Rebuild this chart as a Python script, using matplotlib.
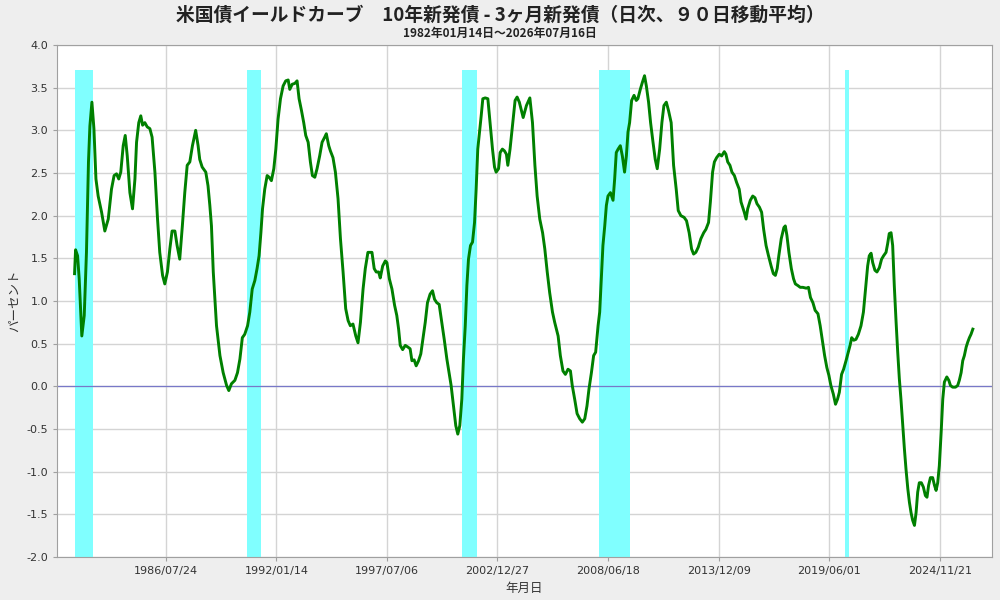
import matplotlib
matplotlib.use("Agg")
import matplotlib.pyplot as plt
import matplotlib.dates as mdates
import pandas as pd

plt.rcParams['font.family'] = ['Noto Sans CJK JP', 'DejaVu Sans']

# 10年新発債 - 3ヶ月新発債 (90日移動平均), 年は小数で読み取り
years = [
    1982.04, 1982.09, 1982.19, 1982.27, 1982.40, 1982.52, 1982.63, 1982.73, 1982.80, 1982.90,
    1983.00, 1983.10, 1983.21, 1983.38, 1983.54, 1983.71, 1983.87, 1984.00, 1984.12, 1984.23,
    1984.33, 1984.45, 1984.55, 1984.65, 1984.78, 1984.91, 1985.03, 1985.11, 1985.22, 1985.32,
    1985.41, 1985.52, 1985.64, 1985.77, 1985.88, 1986.02, 1986.15, 1986.26, 1986.40, 1986.51,
    1986.64, 1986.76, 1986.87, 1987.01, 1987.12, 1987.25, 1987.38, 1987.50, 1987.62, 1987.75,
    1987.88, 1988.04, 1988.16, 1988.24, 1988.36, 1988.54, 1988.65, 1988.74, 1988.82, 1988.91,
    1989.07, 1989.24, 1989.40, 1989.57, 1989.68, 1989.81, 1989.98, 1990.11, 1990.23, 1990.35,
    1990.47, 1990.61, 1990.72, 1990.84, 1990.97, 1991.08, 1991.18, 1991.27, 1991.35, 1991.46,
    1991.58, 1991.68, 1991.79, 1991.91, 1992.01, 1992.12, 1992.24, 1992.37, 1992.50, 1992.62,
    1992.70, 1992.82, 1992.95, 1993.06, 1993.16, 1993.28, 1993.39, 1993.49, 1993.61, 1993.72,
    1993.82, 1993.94, 1994.05, 1994.18, 1994.30, 1994.43, 1994.51, 1994.63, 1994.71, 1994.84,
    1994.96, 1995.09, 1995.21, 1995.34, 1995.47, 1995.59, 1995.70, 1995.83, 1995.97, 1996.08,
    1996.20, 1996.33, 1996.44, 1996.57, 1996.77, 1996.88, 1996.98, 1997.10, 1997.18, 1997.30,
    1997.43, 1997.51, 1997.63, 1997.76, 1997.89, 1998.00, 1998.09, 1998.17, 1998.29, 1998.42,
    1998.55, 1998.66, 1998.75, 1998.86, 1998.96, 1999.08, 1999.19, 1999.29, 1999.41, 1999.52,
    1999.65, 1999.77, 1999.87, 1999.98, 2000.10, 2000.23, 2000.35, 2000.48, 2000.59, 2000.69,
    2000.81, 2000.92, 2001.02, 2001.12, 2001.22, 2001.30, 2001.39, 2001.47, 2001.55, 2001.65,
    2001.75, 2001.85, 2001.93, 2002.01, 2002.10, 2002.18, 2002.26, 2002.38, 2002.51, 2002.62,
    2002.74, 2002.84, 2002.92, 2003.04, 2003.12, 2003.23, 2003.33, 2003.43, 2003.50, 2003.61,
    2003.73, 2003.86, 2003.96, 2004.07, 2004.26, 2004.42, 2004.59, 2004.72, 2004.84, 2004.95,
    2005.08, 2005.22, 2005.33, 2005.45, 2005.57, 2005.71, 2005.82, 2005.99, 2006.10, 2006.23,
    2006.35, 2006.48, 2006.60, 2006.69, 2006.81, 2006.93, 2007.06, 2007.19, 2007.31, 2007.42,
    2007.52, 2007.64, 2007.75, 2007.85, 2007.97, 2008.05, 2008.13, 2008.21, 2008.30, 2008.38,
    2008.46, 2008.58, 2008.71, 2008.79, 2008.87, 2008.96, 2009.07, 2009.17, 2009.28, 2009.37,
    2009.45, 2009.53, 2009.63, 2009.75, 2009.86, 2009.94, 2010.06, 2010.16, 2010.27, 2010.36,
    2010.47, 2010.57, 2010.69, 2010.80, 2010.90, 2011.02, 2011.13, 2011.23, 2011.35, 2011.46,
    2011.59, 2011.71, 2011.84, 2011.94, 2012.07, 2012.23, 2012.35, 2012.48, 2012.60, 2012.70,
    2012.81, 2012.93, 2013.06, 2013.20, 2013.31, 2013.44, 2013.53, 2013.64, 2013.73, 2013.84,
    2013.97, 2014.09, 2014.22, 2014.30, 2014.39, 2014.50, 2014.60, 2014.72, 2014.83, 2014.96,
    2015.05, 2015.13, 2015.21, 2015.30, 2015.38, 2015.51, 2015.63, 2015.74, 2015.84, 2015.96,
    2016.07, 2016.17, 2016.29, 2016.41, 2016.54, 2016.65, 2016.75, 2016.84, 2016.92, 2017.04,
    2017.17, 2017.24, 2017.32, 2017.42, 2017.54, 2017.65, 2017.74, 2017.87, 2017.98, 2018.11,
    2018.28, 2018.39, 2018.49, 2018.61, 2018.72, 2018.86, 2018.97, 2019.07, 2019.19, 2019.30,
    2019.40, 2019.50, 2019.62, 2019.73, 2019.83, 2019.92, 2020.03, 2020.13, 2020.25, 2020.36,
    2020.45, 2020.53, 2020.63, 2020.74, 2020.86, 2020.99, 2021.11, 2021.20, 2021.32, 2021.40,
    2021.49, 2021.57, 2021.68, 2021.78, 2021.90, 2022.01, 2022.11, 2022.23, 2022.31, 2022.39,
    2022.48, 2022.56, 2022.64, 2022.73, 2022.81, 2022.89, 2022.97, 2023.06, 2023.14, 2023.22,
    2023.31, 2023.39, 2023.47, 2023.55, 2023.64, 2023.72, 2023.80, 2023.88, 2023.98, 2024.08,
    2024.18, 2024.26, 2024.34, 2024.43, 2024.54, 2024.63, 2024.71, 2024.79, 2024.87, 2024.96,
    2025.04, 2025.12, 2025.24, 2025.34, 2025.42, 2025.53, 2025.67, 2025.78, 2025.86, 2025.95,
    2026.03, 2026.11, 2026.20, 2026.28, 2026.36, 2026.44, 2026.53,
]
spread = [
    1.32, 1.60, 1.53, 1.26, 0.59, 0.83, 1.57, 2.63, 3.05, 3.33,
    3.02, 2.43, 2.23, 2.04, 1.82, 1.96, 2.31, 2.47, 2.49, 2.43,
    2.51, 2.82, 2.94, 2.70, 2.27, 2.08, 2.43, 2.86, 3.09, 3.17,
    3.06, 3.09, 3.04, 3.02, 2.92, 2.51, 1.96, 1.57, 1.30, 1.20,
    1.34, 1.61, 1.82, 1.82, 1.65, 1.49, 1.88, 2.27, 2.59, 2.63,
    2.82, 3.00, 2.82, 2.66, 2.57, 2.51, 2.35, 2.12, 1.88, 1.34,
    0.71, 0.36, 0.16, 0.01, -0.05, 0.03, 0.07, 0.16, 0.32, 0.57,
    0.61, 0.71, 0.87, 1.14, 1.24, 1.38, 1.53, 1.80, 2.08, 2.31,
    2.47, 2.45, 2.41, 2.55, 2.78, 3.13, 3.37, 3.52, 3.58, 3.59,
    3.48, 3.54, 3.55, 3.58, 3.37, 3.23, 3.09, 2.94, 2.86, 2.63,
    2.47, 2.45, 2.55, 2.70, 2.86, 2.92, 2.96, 2.82, 2.76, 2.68,
    2.51, 2.20, 1.73, 1.34, 0.91, 0.77, 0.71, 0.73, 0.59, 0.51,
    0.75, 1.14, 1.38, 1.57, 1.57, 1.38, 1.34, 1.34, 1.27, 1.41,
    1.47, 1.45, 1.26, 1.14, 0.95, 0.83, 0.67, 0.48, 0.43, 0.48,
    0.46, 0.44, 0.30, 0.31, 0.24, 0.30, 0.38, 0.55, 0.75, 0.98,
    1.08, 1.12, 1.02, 0.98, 0.96, 0.75, 0.55, 0.32, 0.16, 0.01,
    -0.23, -0.46, -0.56, -0.46, -0.15, 0.32, 0.71, 1.18, 1.49, 1.65,
    1.69, 1.92, 2.31, 2.78, 2.98, 3.17, 3.37, 3.38, 3.37, 3.09,
    2.78, 2.57, 2.51, 2.55, 2.74, 2.78, 2.76, 2.72, 2.59, 2.78,
    3.05, 3.35, 3.39, 3.33, 3.15, 3.29, 3.38, 3.09, 2.59, 2.23,
    1.96, 1.80, 1.61, 1.34, 1.10, 0.87, 0.75, 0.59, 0.36, 0.18,
    0.14, 0.20, 0.18, 0.01, -0.15, -0.32, -0.38, -0.42, -0.38, -0.23,
    -0.03, 0.16, 0.36, 0.40, 0.71, 0.87, 1.26, 1.65, 1.88, 2.12,
    2.23, 2.27, 2.18, 2.43, 2.74, 2.78, 2.82, 2.70, 2.51, 2.70,
    2.98, 3.09, 3.35, 3.41, 3.35, 3.37, 3.48, 3.56, 3.64, 3.52,
    3.33, 3.09, 2.86, 2.66, 2.55, 2.78, 3.09, 3.29, 3.33, 3.23,
    3.09, 2.59, 2.31, 2.06, 2.00, 1.98, 1.94, 1.80, 1.61, 1.55,
    1.57, 1.63, 1.73, 1.80, 1.84, 1.92, 2.16, 2.51, 2.63, 2.68,
    2.72, 2.70, 2.75, 2.72, 2.63, 2.59, 2.51, 2.47, 2.39, 2.31,
    2.16, 2.10, 2.04, 1.96, 2.08, 2.18, 2.23, 2.21, 2.14, 2.10,
    2.04, 1.84, 1.65, 1.53, 1.41, 1.32, 1.30, 1.38, 1.53, 1.73,
    1.86, 1.88, 1.77, 1.57, 1.38, 1.26, 1.20, 1.18, 1.16, 1.16,
    1.15, 1.16, 1.04, 0.98, 0.89, 0.85, 0.71, 0.55, 0.36, 0.22,
    0.13, 0.01, -0.09, -0.21, -0.15, -0.07, 0.14, 0.20, 0.30, 0.40,
    0.48, 0.57, 0.54, 0.55, 0.61, 0.71, 0.87, 1.10, 1.41, 1.53,
    1.56, 1.45, 1.36, 1.34, 1.39, 1.49, 1.53, 1.57, 1.67, 1.79,
    1.80, 1.65, 1.18, 0.75, 0.40, 0.09, -0.15, -0.46, -0.73, -0.97,
    -1.20, -1.36, -1.48, -1.57, -1.63, -1.48, -1.24, -1.13, -1.13, -1.18,
    -1.28, -1.30, -1.16, -1.07, -1.07, -1.16, -1.22, -1.13, -0.93, -0.54,
    -0.15, 0.05, 0.11, 0.07, 0.01, -0.01, -0.01, 0.01, 0.07, 0.16,
    0.30, 0.36, 0.46, 0.52, 0.57, 0.61, 0.67,
]

# 景気後退期 (網掛け)
rec_start = [1982.04, 1990.59, 2001.24, 2008.02, 2020.18]
rec_end = [1982.97, 1991.28, 2001.97, 2009.53, 2020.41]
rec_top = 3.71

tick_dates = ['1986-07-24', '1992-01-14', '1997-07-06', '2002-12-27',
              '2008-06-18', '2013-12-09', '2019-06-01', '2024-11-21']


def to_date(y):
    yr = int(y)
    start = pd.Timestamp(yr, 1, 1)
    end = pd.Timestamp(yr + 1, 1, 1)
    return start + (end - start) * (y - yr)


dates = [to_date(y) for y in years]

fig = plt.figure(figsize=(10, 6), dpi=100, facecolor='#EEEEEE')
ax = fig.add_axes([0.057, 0.0717, 0.935, 0.8533])
ax.set_facecolor('white')

for s, e in zip(rec_start, rec_end):
    ax.fill_between([to_date(s), to_date(e)], -2.0, rec_top,
                    color='#80FFFF', linewidth=0, zorder=1)

ax.axhline(0, color='#7878C8', linewidth=0.9, zorder=2)
ax.plot(dates, spread, color='#008000', linewidth=2.1, zorder=3)

ax.set_xlim(to_date(1981.17), to_date(2027.48))
ax.set_ylim(-2.0, 4.0)
ax.set_yticks([i * 0.5 for i in range(-4, 9)])
ax.set_yticklabels(['%.1f' % (i * 0.5) for i in range(-4, 9)])
ax.set_xticks([pd.Timestamp(d) for d in tick_dates])
ax.xaxis.set_major_formatter(mdates.DateFormatter('%Y/%m/%d'))

ax.grid(True, color='#D4D4D4', linewidth=1.0, zorder=0)
ax.set_axisbelow(True)
for side in ['left', 'bottom', 'top', 'right']:
    ax.spines[side].set_color('#A0A0A0')
ax.tick_params(length=3, color='#A0A0A0', labelcolor='#333333')
for lbl in ax.get_xticklabels() + ax.get_yticklabels():
    lbl.set_family('DejaVu Sans')
    lbl.set_fontsize(8)

ax.set_xlabel('年月日', fontsize=9, color='#333333', labelpad=4)
ax.set_ylabel('パーセント', fontsize=9, color='#333333', labelpad=4)

fig.text(0.5, 0.974, '米国債イールドカーブ　10年新発債 - 3ヶ月新発債（日次、９０日移動平均）',
         ha='center', va='center', fontsize=13.5, fontweight='bold', color='#222222')
fig.text(0.5, 0.945, '1982年01月14日～2026年07月16日',
         ha='center', va='center', fontsize=8.5, fontweight='bold', color='#222222')

fig.savefig('out.png', dpi=100, facecolor=fig.get_facecolor())
